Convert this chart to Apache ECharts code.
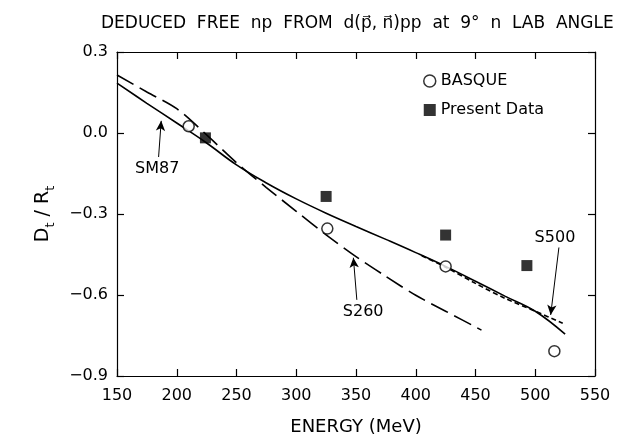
<!DOCTYPE html>
<html>
<head>
<meta charset="utf-8">
<script src="https://cdn.jsdelivr.net/npm/echarts@6/dist/echarts.min.js"></script>
<style>
  html, body { margin: 0; padding: 0; background: #fff; }
  #chart { width: 623px; height: 441px; }
</style>
</head>
<body>
<div id="chart"></div>
<script>
// measured points
var basqueE = [210, 326, 425, 516];
var basqueV = [0.025, -0.354, -0.494, -0.808];
var presentE = [224, 325, 425, 493];
var presentV = [-0.018, -0.235, -0.378, -0.491];

// theory curves
var sm87E = [150, 175, 200, 225, 250, 275, 300, 325, 350, 375, 400, 425, 450, 475, 500, 525];
var sm87V = [0.185, 0.11, 0.037, -0.037, -0.118, -0.185, -0.244, -0.297, -0.346, -0.394, -0.443, -0.494, -0.549, -0.605, -0.66, -0.745];
var s260E = [150, 175, 200, 225, 250, 275, 300, 325, 350, 375, 400, 425, 455];
var s260V = [0.215, 0.152, 0.09, -0.007, -0.11, -0.202, -0.29, -0.377, -0.458, -0.531, -0.601, -0.66, -0.73];
var s500E = [405, 425, 450, 475, 500, 523];
var s500V = [-0.455, -0.497, -0.557, -0.613, -0.66, -0.705];

var xTicks = [150, 550, 50];
var yTicks = [-0.9, 0.3, 0.3];

// annotation labels: text pos, arrow from, arrow to
var notes = [
  { text: 'SM87', at: [183.7, -0.132], from: [184.8, -0.089], to: [187, 0.045] },
  { text: 'S260', at: [356, -0.662], from: [350.7, -0.618], to: [347.8, -0.462] },
  { text: 'S500', at: [516.5, -0.388], from: [519.8, -0.424], to: [512.9, -0.674] }
];

function zip(a, b) {
  var res = [];
  for (var i = 0; i < a.length; i++) res.push([a[i], b[i]]);
  return res;
}

var FONT = 'DejaVu Sans';
var axisCommon = {
  type: 'value',
  splitLine: { show: false },
  axisLine: { show: true, onZero: false, lineStyle: { color: '#000', width: 1.2 } },
  axisTick: { show: true, inside: true, length: 7, lineStyle: { color: '#000', width: 1.2 } }
};

var arrowLines = notes.map(function (n) {
  return [{ coord: n.from }, { coord: n.to }];
});

var option = {
  animation: false,
  backgroundColor: '#fff',
  title: {
    text: 'DEDUCED  FREE  np  FROM  d(p\u20D7, n\u20D7)pp  at  9\u00B0  n  LAB  ANGLE',
    left: 96,
    top: 10,
    textStyle: { fontFamily: FONT, fontSize: 17, fontWeight: 'normal', color: '#000' }
  },
  legend: {
    orient: 'vertical',
    left: 418,
    top: 68,
    itemWidth: 12,
    itemHeight: 12,
    itemGap: 13,
    textStyle: { fontFamily: FONT, fontSize: 16, color: '#000' },
    data: [
      { name: 'BASQUE', icon: 'circle', itemStyle: { color: '#fff', borderColor: '#000', borderWidth: 1.5 } },
      { name: 'Present Data', icon: 'rect' }
    ]
  },
  grid: { left: 117, right: 28, top: 52, bottom: 61 },
  xAxis: [
    Object.assign({}, axisCommon, {
      min: xTicks[0], max: xTicks[1], interval: xTicks[2],
      name: 'ENERGY (MeV)',
      nameLocation: 'middle',
      nameGap: 42,
      nameTextStyle: { fontFamily: FONT, fontSize: 18, color: '#000' },
      axisLabel: { fontFamily: FONT, fontSize: 16, color: '#000', margin: 12 }
    }),
    Object.assign({}, axisCommon, {
      position: 'top',
      min: xTicks[0], max: xTicks[1], interval: xTicks[2],
      axisLabel: { show: false }
    })
  ],
  yAxis: [
    Object.assign({}, axisCommon, {
      min: yTicks[0], max: yTicks[1], interval: yTicks[2],
      name: '{a|D}{s|t}{a| / R}{s|t}',
      nameLocation: 'middle',
      nameGap: 64,
      nameRotate: 90,
      nameTextStyle: {
        color: '#000',
        rich: {
          a: { fontFamily: FONT, fontSize: 19, color: '#000', verticalAlign: 'bottom' },
          s: { fontFamily: FONT, fontSize: 13, color: '#000', verticalAlign: 'bottom', padding: [0, 0, -4, 0] }
        }
      },
      axisLabel: {
        fontFamily: FONT, fontSize: 16, color: '#000', margin: 9,
        formatter: function (v) { return v.toFixed(1).replace('-', '\u2212'); }
      }
    }),
    Object.assign({}, axisCommon, {
      position: 'right',
      min: yTicks[0], max: yTicks[1], interval: yTicks[2],
      axisLabel: { show: false }
    })
  ],
  series: [
    {
      name: 'SM87', type: 'line', data: zip(sm87E, sm87V), smooth: 0.4,
      showSymbol: false, lineStyle: { color: '#000', width: 1.6 },
      markLine: {
        silent: true,
        symbol: ['none', 'arrow'],
        symbolSize: [7, 10],
        label: { show: false },
        lineStyle: { color: '#000', width: 1, type: 'solid' },
        data: arrowLines
      }
    },
    {
      name: 'S260', type: 'line', data: zip(s260E, s260V), smooth: 0.3,
      showSymbol: false, lineStyle: { color: '#000', width: 1.6, type: [19, 7] }
    },
    {
      name: 'S500', type: 'line', data: zip(s500E, s500V), smooth: 0.3,
      showSymbol: false, lineStyle: { color: '#000', width: 1.6, type: [5, 3] }
    },
    {
      name: 'BASQUE', type: 'scatter', data: zip(basqueE, basqueV),
      symbol: 'circle', symbolSize: 11, z: 5,
      itemStyle: { color: '#fff', borderColor: '#000', borderWidth: 1.5 }
    },
    {
      name: 'Present Data', type: 'scatter', data: zip(presentE, presentV),
      symbol: 'rect', symbolSize: 11, z: 5,
      itemStyle: { color: '#000' }
    }
  ]
};

var chart = echarts.init(document.getElementById('chart'), null, { renderer: 'canvas' });
chart.setOption(option);

// note labels placed from data coords
var g = notes.map(function (n) {
  var p = chart.convertToPixel({ xAxisIndex: 0, yAxisIndex: 0 }, n.at);
  return {
    type: 'text', x: p[0], y: p[1], z: 10,
    style: { text: n.text, fontFamily: FONT, fontSize: 16, fill: '#000', align: 'center', verticalAlign: 'middle' }
  };
});
chart.setOption({ graphic: g });
</script>
</body>
</html>
